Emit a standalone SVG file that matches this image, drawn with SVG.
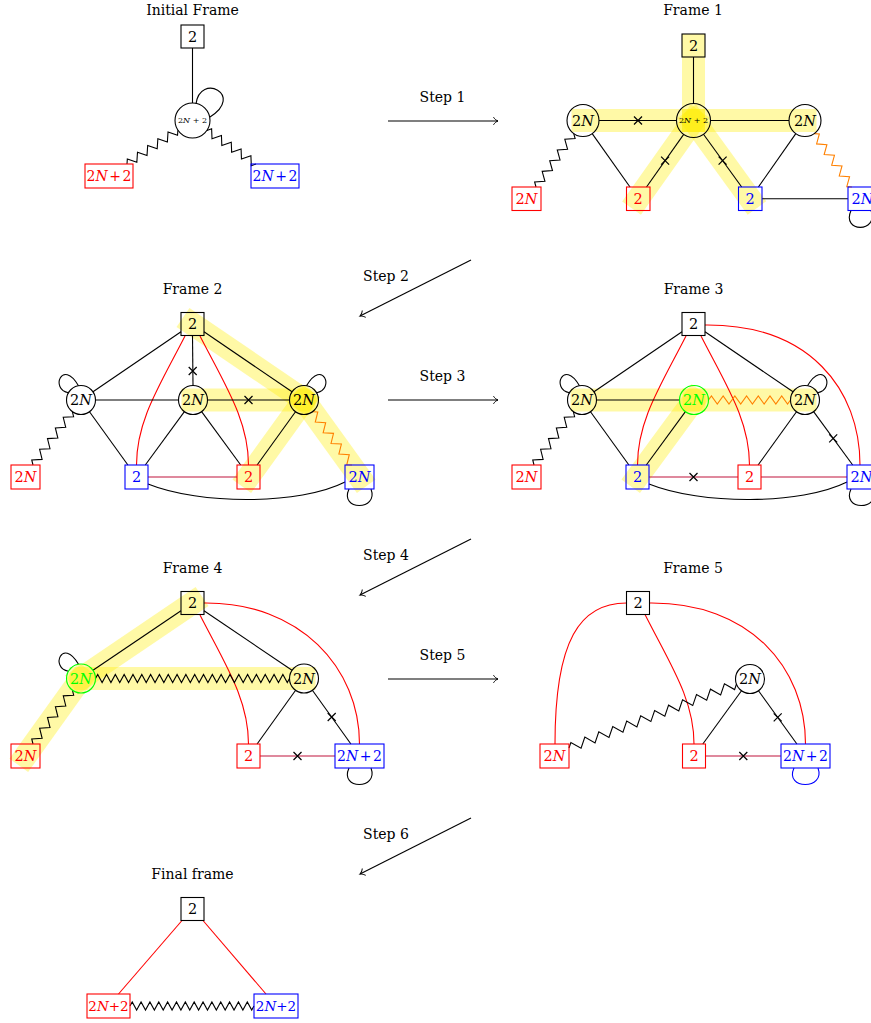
<svg xmlns="http://www.w3.org/2000/svg" xmlns:xlink="http://www.w3.org/1999/xlink" width="871" height="1023" viewBox="0 0 871 1023">
<style>
text{font-family:"DejaVu Serif","Liberation Serif",serif;fill:#000}
.t{font-size:14px;text-anchor:middle}
.l{font-size:14.5px;text-anchor:middle}
.lp{font-size:14px;text-anchor:middle}
.s{font-size:8px;text-anchor:middle}
.it{font-style:italic}
.e{stroke:#000;stroke-width:1.1;fill:none}
.rd{stroke:#f00;stroke-width:1.1;fill:none}
.cr{stroke:#c0143c;stroke-width:1.1;fill:none}
.zb{stroke:#000;fill:none}
.zo{stroke:#ff8000;fill:none}
.hl{stroke:#ffee00;stroke-opacity:0.35;stroke-width:23;stroke-linecap:square;fill:none}
.nb{fill:none;stroke:#000;stroke-width:1.1}
.nr{fill:none;stroke:#f00;stroke-width:1.1}
.nu{fill:none;stroke:#00f;stroke-width:1.1}
.ng{fill:none;stroke:#0f0;stroke-width:1.1}
.tr{fill:#f00}.tu{fill:#00f}.tg{fill:#0f0}
.ar{stroke:#000;stroke-width:1.1;fill:none;marker-end:url(#to)}
.lpb{stroke:#00f;stroke-width:1.1;fill:none}
</style>
<defs>
<marker id="to" markerUnits="userSpaceOnUse" viewBox="-6 -6 12 12" markerWidth="12" markerHeight="12" refX="0" refY="0" orient="auto">
<path d="M-4.5,-3.8 C-3.3,-1.7 -1.3,-0.4 0,0 C-1.3,0.4 -3.3,1.7 -4.5,3.8" fill="none" stroke="#000" stroke-width="1"/>
</marker>
<path id="x" d="M-4,-4 L4,4 M-4,4 L4,-4" stroke="#000" stroke-width="1.2" fill="none"/>
<path id="zz5" vector-effect="non-scaling-stroke" stroke-width="1.1" d="M0,0 L3,-4 L9,4 L15,-4 L21,4 L27,-4 L33,4 L39,-4 L45,4 L51,-4 L57,4 L60,0"/>
<path id="zz7" vector-effect="non-scaling-stroke" stroke-width="1.1" d="M0,0 L3,-4 L9,4 L15,-4 L21,4 L27,-4 L33,4 L39,-4 L45,4 L51,-4 L57,4 L63,-4 L69,4 L75,-4 L81,4 L84,0"/>
<path id="zz12" vector-effect="non-scaling-stroke" stroke-width="1.1" d="M0,0 L3.75,-4.5 L11.25,4.5 L18.75,-4.5 L26.25,4.5 L33.75,-4.5 L41.25,4.5 L48.75,-4.5 L56.25,4.5 L63.75,-4.5 L71.25,4.5 L78.75,-4.5 L86.25,4.5 L93.75,-4.5 L101.25,4.5 L108.75,-4.5 L116.25,4.5 L123.75,-4.5 L131.25,4.5 L138.75,-4.5 L146.25,4.5 L153.75,-4.5 L161.25,4.5 L168.75,-4.5 L176.25,4.5 L180,0"/>
<path id="zz14" vector-effect="non-scaling-stroke" stroke-width="1.1" d="M0,0 L2.2,-4 L6.6,4 L11,-4 L15.4,4 L19.8,-4 L24.2,4 L28.6,-4 L33,4 L37.4,-4 L41.8,4 L46.2,-4 L50.6,4 L55,-4 L59.4,4 L63.8,-4 L68.2,4 L72.6,-4 L77,4 L81.4,-4 L85.8,4 L90.2,-4 L94.6,4 L99,-4 L103.4,4 L107.8,-4 L112.2,4 L116.6,-4 L121,4 L123.2,0"/>
<path id="zz22" vector-effect="non-scaling-stroke" stroke-width="1.1" d="M0,0 L2.2,-4 L6.6,4 L11,-4 L15.4,4 L19.8,-4 L24.2,4 L28.6,-4 L33,4 L37.4,-4 L41.8,4 L46.2,-4 L50.6,4 L55,-4 L59.4,4 L63.8,-4 L68.2,4 L72.6,-4 L77,4 L81.4,-4 L85.8,4 L90.2,-4 L94.6,4 L99,-4 L103.4,4 L107.8,-4 L112.2,4 L116.6,-4 L121,4 L125.4,-4 L129.8,4 L134.2,-4 L138.6,4 L143,-4 L147.4,4 L151.8,-4 L156.2,4 L160.6,-4 L165,4 L169.4,-4 L173.8,4 L178.2,-4 L182.6,4 L187,-4 L191.4,4 L193.6,0"/>
</defs>
<rect width="871" height="1023" fill="#fff"/>

<g id="titles">
<text class="t" x="192.5" y="15">Initial Frame</text>
<text class="t" x="693" y="15">Frame 1</text>
<text class="t" x="192.5" y="294">Frame 2</text>
<text class="t" x="693.5" y="294">Frame 3</text>
<text class="t" x="192.5" y="573">Frame 4</text>
<text class="t" x="693" y="573">Frame 5</text>
<text class="t" x="192.5" y="879">Final frame</text>
</g>

<g id="highlights">
<line class="hl" x1="693.5" y1="45.5" x2="693.5" y2="120.5"/>
<line class="hl" x1="583" y1="120.5" x2="693.5" y2="120.5"/>
<line class="hl" x1="693.5" y1="120.5" x2="805" y2="120.5"/>
<line class="hl" x1="693.5" y1="120.5" x2="638.2" y2="198.7"/>
<line class="hl" x1="693.5" y1="120.5" x2="750.2" y2="198.7"/>
<line class="hl" x1="192.5" y1="324" x2="304" y2="400"/>
<line class="hl" x1="193" y1="400" x2="304" y2="400"/>
<line class="hl" x1="304" y1="400" x2="248.5" y2="477"/>
<line class="hl" x1="304" y1="400" x2="359.5" y2="477"/>
<line class="hl" x1="582" y1="400" x2="694" y2="400"/>
<line class="hl" x1="694" y1="400" x2="805" y2="400"/>
<line class="hl" x1="694" y1="400" x2="637.5" y2="477"/>
<line class="hl" x1="192.5" y1="603" x2="81" y2="678.5"/>
<line class="hl" x1="81" y1="678.5" x2="304" y2="678.5"/>
<line class="hl" x1="25.5" y1="756" x2="81" y2="678.5"/>
</g>

<g id="connectors">
<!-- Initial -->
<line class="e" x1="192.5" y1="48" x2="192.5" y2="103"/>
<path class="e" d="M196,104 C200,72 245,95 210,117"/>
<use href="#zz5" class="zb" transform="translate(127,164) rotate(-33.6) scale(1.018,1)"/>
<use href="#zz5" class="zb" transform="translate(206.9,130.4) rotate(34.4) scale(0.992,1)"/>
<!-- Frame 1 -->
<line class="e" x1="693.5" y1="57" x2="693.5" y2="103.5"/>
<line class="e" x1="599" y1="120.5" x2="676.5" y2="120.5"/>
<line class="e" x1="710.5" y1="120.5" x2="789" y2="120.5"/>
<line class="e" x1="683.7" y1="134.4" x2="646.5" y2="187"/>
<line class="e" x1="703.5" y1="134.3" x2="741.7" y2="187"/>
<line class="e" x1="592.2" y1="133.6" x2="630" y2="187"/>
<line class="e" x1="795.8" y1="133.6" x2="758.4" y2="187"/>
<line class="e" x1="762" y1="198.7" x2="848" y2="198.7"/>
<path class="e" d="M851,210.5 C841,233 879,233 871,210.5"/>
<use href="#zz5" class="zb" transform="translate(536,187) rotate(-54.75) scale(1.09,1)"/>
<use href="#zz5" class="zo" transform="translate(814.2,133.6) rotate(54.75) scale(1.09,1)"/>
<use href="#x" x="638" y="120.5"/>
<use href="#x" x="665.1" y="160.7"/>
<use href="#x" x="722.6" y="160.6"/>
<!-- Frame 2 -->
<line class="e" x1="181" y1="331.8" x2="93" y2="391.8"/>
<line class="e" x1="192.5" y1="335.5" x2="193" y2="385.5"/>
<line class="e" x1="204" y1="331.8" x2="292" y2="391.8"/>
<path class="rd" d="M185,336 C160,385 136.5,420 136.5,465"/>
<path class="rd" d="M200,336 C225,385 248.5,420 248.5,465"/>
<line class="e" x1="95.5" y1="400" x2="178.5" y2="400"/>
<line class="e" x1="207.5" y1="400" x2="289.5" y2="400"/>
<line class="e" x1="89.5" y1="411.8" x2="127.9" y2="465"/>
<line class="e" x1="184.4" y1="411.7" x2="145.3" y2="465"/>
<line class="e" x1="201.6" y1="411.7" x2="240.7" y2="465"/>
<line class="e" x1="295.5" y1="411.8" x2="257.1" y2="465"/>
<line class="cr" x1="148" y1="477" x2="237" y2="477"/>
<path class="e" d="M148,484 C200,505 300,505 345,482"/>
<path class="e" d="M68.4,392.7 C50,390 62,358 78.5,385.7"/>
<path class="e" d="M316.6,392.7 C335,390 323,358 306.5,385.7"/>
<path class="e" d="M349,489 C339,511 379,511 371,489"/>
<use href="#zz5" class="zb" transform="translate(33,465) rotate(-53.6) scale(1.105,1)"/>
<use href="#zz5" class="zo" transform="translate(312.6,411.7) rotate(53.6) scale(1.105,1)"/>
<use href="#x" x="192.7" y="371"/>
<use href="#x" x="248.5" y="400"/>
<!-- Frame 3 -->
<line class="e" x1="682" y1="331.8" x2="594" y2="391.8"/>
<line class="e" x1="705" y1="331.8" x2="793" y2="391.8"/>
<path class="rd" d="M686,336 C661,385 637.5,420 637.5,465"/>
<path class="rd" d="M701,336 C726,385 749.5,420 749.5,465"/>
<path class="rd" d="M705,325 C810,324 860,390 860,465"/>
<line class="e" x1="596.5" y1="400" x2="679.5" y2="400"/>
<line class="e" x1="590.5" y1="411.8" x2="628.9" y2="465"/>
<line class="e" x1="685.4" y1="411.7" x2="646.3" y2="465"/>
<line class="e" x1="796.5" y1="411.8" x2="758.1" y2="465"/>
<line class="e" x1="813.6" y1="411.7" x2="852.7" y2="465"/>
<line class="cr" x1="649" y1="477" x2="738" y2="477"/>
<line class="cr" x1="761" y1="477" x2="847" y2="477"/>
<path class="e" d="M649,484 C701,505 801,505 847,482"/>
<path class="e" d="M569.4,392.7 C551,390 563,358 579.5,385.7"/>
<path class="e" d="M817.6,392.7 C836,390 824,358 807.5,385.7"/>
<path class="e" d="M851,489 C841,511 881,511 873,489"/>
<use href="#zz5" class="zb" transform="translate(534,465) rotate(-53.6) scale(1.105,1)"/>
<use href="#zz7" class="zo" transform="translate(708.5,400) scale(0.976,1)"/>
<use href="#x" x="833.2" y="438.4"/>
<use href="#x" x="693.5" y="477"/>
<!-- Frame 4 -->
<line class="e" x1="181" y1="610.8" x2="93" y2="670.3"/>
<line class="e" x1="204" y1="610.8" x2="292" y2="670.3"/>
<path class="rd" d="M200,615 C225,664 248.5,699 248.5,744"/>
<path class="rd" d="M204,603 C300,602 359.5,668 359.5,744"/>
<line class="e" x1="295.6" y1="690.3" x2="257.1" y2="744"/>
<line class="e" x1="312.4" y1="690.3" x2="350.9" y2="744"/>
<line class="cr" x1="260" y1="756" x2="335" y2="756"/>
<path class="e" d="M68.4,671.2 C50,668.5 62,636.5 78.5,664.2"/>
<path class="e" d="M349,768 C339,790 379,790 371,768"/>
<use href="#zz5" class="zb" transform="translate(33,744) rotate(-53.8) scale(1.112,1)"/>
<use href="#zz22" class="zb" transform="translate(95.5,678.5) scale(1.002,1)"/>
<use href="#x" x="331.7" y="717"/>
<use href="#x" x="297.5" y="756"/>
<!-- Frame 5 -->
<path class="rd" d="M626.5,603 C580,603 555,640 555,744"/>
<path class="rd" d="M645,614.5 C670,664 694,699 694,744"/>
<path class="rd" d="M649.5,603 C750,602 805.5,668 805.5,744"/>
<line class="e" x1="741.5" y1="690.7" x2="702.8" y2="744"/>
<line class="e" x1="758.5" y1="690.8" x2="796.9" y2="744"/>
<line class="cr" x1="705.5" y1="756" x2="781" y2="756"/>
<path class="lpb" d="M794,768 C784,790 826,790 818,768"/>
<use href="#zz12" class="zb" transform="translate(569,748) rotate(-20.9) scale(0.996,1)"/>
<use href="#x" x="777.7" y="717.4"/>
<use href="#x" x="743.3" y="756"/>
<!-- Final -->
<line class="rd" x1="182" y1="920.5" x2="118.5" y2="994"/>
<line class="rd" x1="203" y1="920.5" x2="266" y2="994"/>
<use href="#zz14" class="zb" transform="translate(130,1006) scale(1.006,1)"/>
<!-- Steps -->
<line class="ar" x1="388" y1="121" x2="498" y2="121"/>
<line class="ar" x1="471" y1="260" x2="360" y2="316"/>
<line class="ar" x1="388" y1="400" x2="498" y2="400"/>
<line class="ar" x1="471" y1="539" x2="360" y2="595"/>
<line class="ar" x1="388" y1="679" x2="498" y2="679"/>
<line class="ar" x1="471" y1="818" x2="360" y2="874"/>
</g>

<g id="step-labels">
<text class="t" x="442.5" y="102">Step 1</text>
<text class="t" x="386" y="280.5">Step 2</text>
<text class="t" x="442.5" y="381">Step 3</text>
<text class="t" x="386" y="559.5">Step 4</text>
<text class="t" x="442.5" y="660">Step 5</text>
<text class="t" x="386" y="838.5">Step 6</text>
</g>

<!-- Initial frame nodes -->
<g id="i-sq"><rect class="nb" x="181" y="25" width="23" height="23"/><text class="l" x="192.5" y="41.8">2</text></g>
<g id="i-c"><circle class="nb" cx="192.5" cy="120.5" r="17.5"/><text class="s" x="192.5" y="123.4">2<tspan class="it">N</tspan> + 2</text></g>
<g id="i-red"><rect class="nr" x="85" y="164" width="48" height="24"/><text class="lp tr" x="109" y="181.2">2<tspan class="it">N</tspan><tspan dx="1.5">+</tspan><tspan dx="1.5">2</tspan></text></g>
<g id="i-blue"><rect class="nu" x="251" y="164" width="48" height="24"/><text class="lp tu" x="275" y="181.2">2<tspan class="it">N</tspan><tspan dx="1.5">+</tspan><tspan dx="1.5">2</tspan></text></g>

<!-- Frame 1 nodes -->
<g id="f1-sq"><rect class="nb" x="682" y="34" width="23" height="23"/><text class="l" x="693.5" y="50.8">2</text></g>
<g id="f1-c"><circle class="nb" cx="693.5" cy="120.5" r="17"/><text class="s" x="693.5" y="123.4">2<tspan class="it">N</tspan> + 2</text></g>
<g id="f1-l"><circle class="nb" cx="583" cy="120.5" r="16"/><text class="l" x="583" y="125.8">2<tspan class="it">N</tspan></text></g>
<g id="f1-r"><circle class="nb" cx="805" cy="120.5" r="16"/><text class="l" x="805" y="125.8">2<tspan class="it">N</tspan></text></g>
<g id="f1-b1"><rect class="nr" x="512" y="187" width="29" height="23.5"/><text class="l tr" x="526.5" y="204">2<tspan class="it">N</tspan></text></g>
<g id="f1-b2"><rect class="nr" x="626.5" y="187" width="23.5" height="23.5"/><text class="l tr" x="638.2" y="204">2</text></g>
<g id="f1-b3"><rect class="nu" x="738.5" y="187" width="23.5" height="23.5"/><text class="l tu" x="750.2" y="204">2</text></g>
<g id="f1-b4"><rect class="nu" x="848" y="187" width="29" height="23.5"/><text class="l tu" x="862.5" y="204">2<tspan class="it">N</tspan></text></g>

<!-- Frame 2 nodes -->
<g id="f2-sq"><rect class="nb" x="181" y="312.5" width="23" height="23"/><text class="l" x="192.5" y="329.3">2</text></g>
<g id="f2-l"><circle class="nb" cx="81" cy="400" r="14.5"/><text class="l" x="81" y="405.3">2<tspan class="it">N</tspan></text></g>
<g id="f2-m"><circle class="nb" cx="193" cy="400" r="14.5"/><text class="l" x="193" y="405.3">2<tspan class="it">N</tspan></text></g>
<g id="f2-r"><circle class="nb" cx="304" cy="400" r="14.5"/><text class="l" x="304" y="405.3">2<tspan class="it">N</tspan></text></g>
<g id="f2-b1"><rect class="nr" x="11" y="465" width="29" height="24"/><text class="l tr" x="25.5" y="482.3">2<tspan class="it">N</tspan></text></g>
<g id="f2-b2"><rect class="nu" x="125" y="465" width="23" height="24"/><text class="l tu" x="136.5" y="482.3">2</text></g>
<g id="f2-b3"><rect class="nr" x="237" y="465" width="23" height="24"/><text class="l tr" x="248.5" y="482.3">2</text></g>
<g id="f2-b4"><rect class="nu" x="345" y="465" width="29" height="24"/><text class="l tu" x="359.5" y="482.3">2<tspan class="it">N</tspan></text></g>

<!-- Frame 3 nodes -->
<g id="f3-sq"><rect class="nb" x="682" y="312.5" width="23" height="23"/><text class="l" x="693.5" y="329.3">2</text></g>
<g id="f3-l"><circle class="nb" cx="582" cy="400" r="14.5"/><text class="l" x="582" y="405.3">2<tspan class="it">N</tspan></text></g>
<g id="f3-m"><circle class="ng" cx="694" cy="400" r="14.5"/><text class="l tg" x="694" y="405.3">2<tspan class="it">N</tspan></text></g>
<g id="f3-r"><circle class="nb" cx="805" cy="400" r="14.5"/><text class="l" x="805" y="405.3">2<tspan class="it">N</tspan></text></g>
<g id="f3-b1"><rect class="nr" x="512" y="465" width="29" height="24"/><text class="l tr" x="526.5" y="482.3">2<tspan class="it">N</tspan></text></g>
<g id="f3-b2"><rect class="nu" x="626" y="465" width="23" height="24"/><text class="l tu" x="637.5" y="482.3">2</text></g>
<g id="f3-b3"><rect class="nr" x="738" y="465" width="23" height="24"/><text class="l tr" x="749.5" y="482.3">2</text></g>
<g id="f3-b4"><rect class="nu" x="847" y="465" width="29" height="24"/><text class="l tu" x="861.5" y="482.3">2<tspan class="it">N</tspan></text></g>

<!-- Frame 4 nodes -->
<g id="f4-sq"><rect class="nb" x="181" y="591.5" width="23" height="23"/><text class="l" x="192.5" y="608.3">2</text></g>
<g id="f4-g"><circle class="ng" cx="81" cy="678.5" r="14.5"/><text class="l tg" x="81" y="683.8">2<tspan class="it">N</tspan></text></g>
<g id="f4-r"><circle class="nb" cx="304" cy="678.5" r="14.5"/><text class="l" x="304" y="683.8">2<tspan class="it">N</tspan></text></g>
<g id="f4-b1"><rect class="nr" x="11" y="744" width="29" height="24"/><text class="l tr" x="25.5" y="761.3">2<tspan class="it">N</tspan></text></g>
<g id="f4-b3"><rect class="nr" x="237" y="744" width="23" height="24"/><text class="l tr" x="248.5" y="761.3">2</text></g>
<g id="f4-b4"><rect class="nu" x="335" y="744" width="49" height="24"/><text class="lp tu" x="359.5" y="761.2">2<tspan class="it">N</tspan><tspan dx="1.5">+</tspan><tspan dx="1.5">2</tspan></text></g>

<!-- Frame 5 nodes -->
<g id="f5-sq"><rect class="nb" x="626.5" y="591.5" width="23" height="23"/><text class="l" x="638" y="608.3">2</text></g>
<g id="f5-c"><circle class="nb" cx="750" cy="679" r="14.5"/><text class="l" x="750" y="684.3">2<tspan class="it">N</tspan></text></g>
<g id="f5-b1"><rect class="nr" x="540" y="744" width="29" height="24"/><text class="l tr" x="554.5" y="761.3">2<tspan class="it">N</tspan></text></g>
<g id="f5-b3"><rect class="nr" x="682.5" y="744" width="23" height="24"/><text class="l tr" x="694" y="761.3">2</text></g>
<g id="f5-b4"><rect class="nu" x="781" y="744" width="49" height="24"/><text class="lp tu" x="805.5" y="761.2">2<tspan class="it">N</tspan><tspan dx="1.5">+</tspan><tspan dx="1.5">2</tspan></text></g>

<!-- Final nodes -->
<g id="fin-sq"><rect class="nb" x="181" y="897.5" width="23" height="23"/><text class="l" x="192.5" y="914.3">2</text></g>
<g id="fin-red"><rect class="nr" x="87" y="994" width="43" height="24"/><text class="tr" font-size="13.5" text-anchor="middle" x="108.5" y="1011">2<tspan class="it">N</tspan>+2</text></g>
<g id="fin-blue"><rect class="nu" x="254" y="994" width="44" height="24"/><text class="tu" font-size="13.5" text-anchor="middle" x="276" y="1011">2<tspan class="it">N</tspan>+2</text></g>
</svg>
